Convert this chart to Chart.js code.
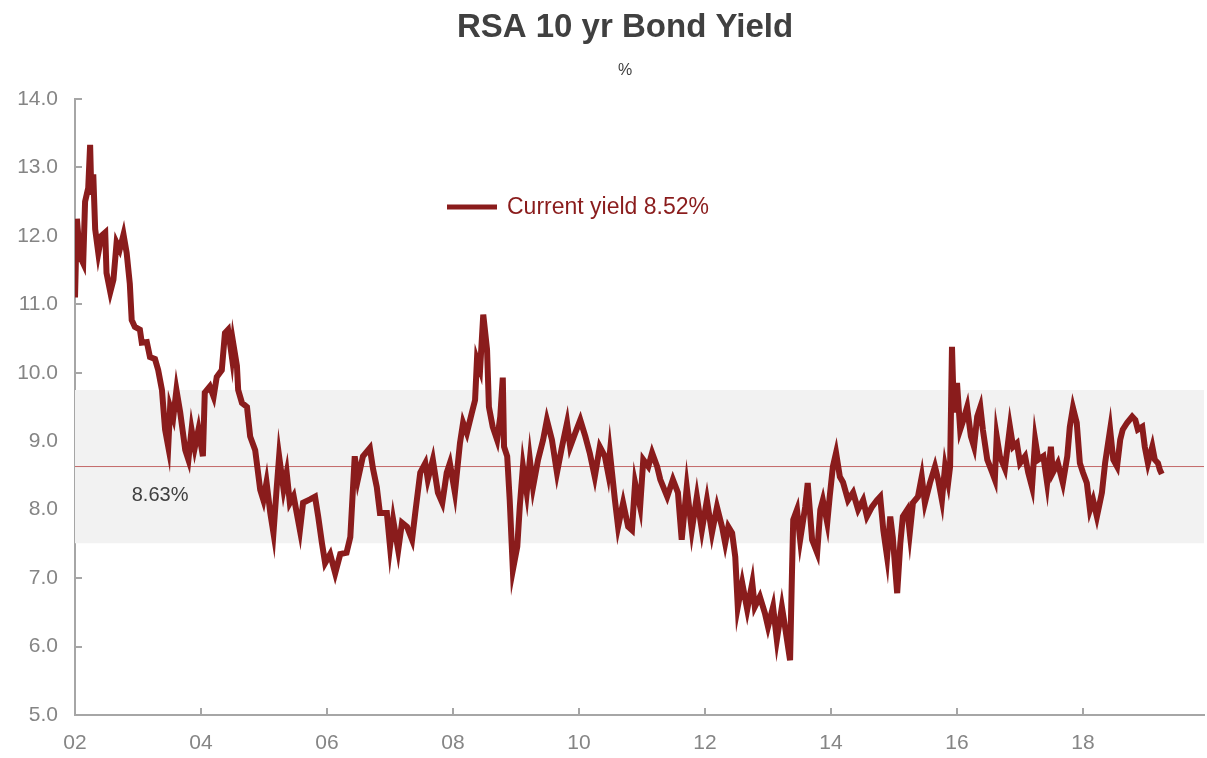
<!DOCTYPE html>
<html>
<head>
<meta charset="utf-8">
<title>RSA 10 yr Bond Yield</title>
<script src="https://cdn.jsdelivr.net/npm/chart.js@4"></script>
<style>
  html, body { margin: 0; padding: 0; background: #fff; }
  #wrap { width: 1207px; height: 758px; }
</style>
</head>
<body>
<div id="wrap"><canvas id="yieldChart" width="1207" height="758"></canvas></div>
<script>
/* ================= DATA ================= */
// dates as decimal years, yields in %
const dates = [
  2002.00, 2002.03, 2002.08, 2002.13, 2002.16, 2002.21, 2002.24, 2002.26, 2002.29, 2002.32,
  2002.37, 2002.42, 2002.48, 2002.50, 2002.56, 2002.61, 2002.66, 2002.71, 2002.77, 2002.82,
  2002.87, 2002.90, 2002.95,
  2003.03, 2003.06, 2003.14, 2003.19, 2003.27, 2003.32, 2003.38, 2003.43, 2003.48, 2003.51,
  2003.56, 2003.61, 2003.67, 2003.75, 2003.80, 2003.85, 2003.90, 2003.96,
  2004.03, 2004.06, 2004.14, 2004.20, 2004.25, 2004.33, 2004.38, 2004.43, 2004.49, 2004.51,
  2004.57, 2004.59, 2004.65, 2004.73, 2004.78, 2004.86, 2004.94, 2004.99,
  2005.04, 2005.10, 2005.15, 2005.20, 2005.24, 2005.31, 2005.36, 2005.41, 2005.47, 2005.52,
  2005.57, 2005.62, 2005.73, 2005.81, 2005.86, 2005.92, 2005.97,
  2006.05, 2006.13, 2006.21, 2006.31, 2006.37, 2006.44, 2006.49, 2006.57, 2006.68, 2006.73,
  2006.79, 2006.84, 2006.95,
  2007.00, 2007.05, 2007.13, 2007.19, 2007.27, 2007.35, 2007.40, 2007.48, 2007.56, 2007.60,
  2007.68, 2007.76, 2007.83, 2007.90, 2007.95,
  2008.03, 2008.11, 2008.16, 2008.22, 2008.30, 2008.35, 2008.38, 2008.43, 2008.48, 2008.54,
  2008.57, 2008.63, 2008.70, 2008.75, 2008.79, 2008.81, 2008.86, 2008.90, 2008.95,
  2009.02, 2009.06, 2009.11, 2009.17, 2009.22, 2009.27, 2009.35, 2009.43, 2009.49, 2009.57,
  2009.65, 2009.73, 2009.81, 2009.86, 2009.94,
  2010.02, 2010.10, 2010.17, 2010.25, 2010.33, 2010.41, 2010.46, 2010.49, 2010.57, 2010.62,
  2010.70, 2010.78, 2010.84, 2010.89, 2010.97,
  2011.02, 2011.10, 2011.16, 2011.24, 2011.29, 2011.40, 2011.49, 2011.57, 2011.63, 2011.71,
  2011.79, 2011.87, 2011.95,
  2012.03, 2012.11, 2012.19, 2012.27, 2012.32, 2012.37, 2012.43, 2012.48, 2012.52, 2012.59,
  2012.67, 2012.75, 2012.79, 2012.87, 2012.95,
  2013.00, 2013.08, 2013.14, 2013.22, 2013.27, 2013.35, 2013.38, 2013.40, 2013.46, 2013.51,
  2013.59, 2013.63, 2013.70, 2013.78, 2013.83, 2013.87, 2013.94, 2013.98,
  2014.03, 2014.08, 2014.14, 2014.19, 2014.27, 2014.35, 2014.43, 2014.51, 2014.57, 2014.65,
  2014.73, 2014.78, 2014.83, 2014.89, 2014.94, 2014.98,
  2015.05, 2015.10, 2015.14, 2015.21, 2015.25, 2015.30, 2015.38, 2015.44, 2015.49, 2015.57,
  2015.65, 2015.70, 2015.76, 2015.81, 2015.86, 2015.89, 2015.92, 2015.95,
  2016.00, 2016.05, 2016.10, 2016.16, 2016.22, 2016.27, 2016.32, 2016.37, 2016.41, 2016.48,
  2016.56, 2016.60, 2016.63, 2016.68, 2016.76, 2016.84, 2016.89, 2016.95,
  2017.00, 2017.08, 2017.13, 2017.19, 2017.24, 2017.29, 2017.37, 2017.43, 2017.49, 2017.52,
  2017.60, 2017.68, 2017.75, 2017.79, 2017.84, 2017.90, 2017.95,
  2018.00, 2018.06, 2018.11, 2018.16, 2018.22, 2018.30, 2018.35, 2018.43, 2018.48, 2018.54,
  2018.59, 2018.63, 2018.70, 2018.78, 2018.83, 2018.87, 2018.94, 2018.98,
  2019.03, 2019.10, 2019.14, 2019.19, 2019.22, 2019.25
];

const yields = [
  11.10, 12.25, 11.70, 11.60, 12.50, 12.70, 13.33, 12.60, 12.90, 12.10,
  11.75, 12.00, 12.05, 11.46, 11.18, 11.36, 11.90, 11.80, 12.02, 11.75,
  11.30, 10.77, 10.67,
  10.63, 10.44, 10.45, 10.23, 10.20, 10.04, 9.75, 9.17, 8.92, 9.50,
  9.35, 9.75, 9.42, 8.87, 8.73, 9.17, 8.90, 9.17,
  8.78, 9.71, 9.80, 9.65, 9.94, 10.04, 10.58, 10.63, 10.23, 10.44,
  10.10, 9.75, 9.56, 9.50, 9.07, 8.87, 8.29, 8.14,
  8.40, 7.95, 7.66, 8.30, 8.78, 8.30, 8.54, 8.10, 8.20, 7.95,
  7.70, 8.10, 8.15, 8.19, 7.90, 7.51, 7.22,
  7.35, 7.07, 7.35, 7.37, 7.60, 8.78, 8.44, 8.78, 8.90, 8.60,
  8.33, 7.95, 7.95,
  7.46, 7.85, 7.41, 7.81, 7.75, 7.56, 7.95, 8.54, 8.68, 8.44,
  8.73, 8.25, 8.10, 8.54, 8.68,
  8.25, 8.97, 9.27, 9.12, 9.42, 9.60, 10.19, 10.05, 10.85, 10.34,
  9.50, 9.21, 9.02, 9.36, 9.93, 8.92, 8.78, 8.14, 7.12,
  7.46, 8.05, 8.63, 8.25, 8.73, 8.33, 8.73, 9.02, 9.31, 9.02,
  8.54, 8.92, 9.27, 8.92, 9.12,
  9.31, 9.07, 8.83, 8.48, 8.92, 8.78, 8.54, 8.83, 8.14, 7.75,
  8.10, 7.75, 7.70, 8.39, 8.04,
  8.73, 8.63, 8.83, 8.63, 8.44, 8.19, 8.44, 8.25, 7.56, 8.33,
  7.70, 8.19, 7.70,
  8.14, 7.66, 8.04, 7.75, 7.51, 7.75, 7.66, 7.31, 6.58, 6.93,
  6.54, 6.93, 6.58, 6.73, 6.49,
  6.29, 6.58, 6.10, 6.58, 6.29, 5.80, 7.07, 7.85, 8.00, 7.56,
  8.04, 8.39, 7.56, 7.37, 8.00, 8.14, 7.81, 8.20,
  8.63, 8.83, 8.48, 8.40, 8.14, 8.25, 8.00, 8.14, 7.90, 8.04,
  8.14, 8.19, 7.70, 7.31, 7.90, 7.60,
  6.78, 7.51, 7.90, 8.00, 7.66, 8.10, 8.19, 8.48, 8.10, 8.39,
  8.63, 8.44, 8.14, 8.63, 8.40, 8.63, 10.38, 9.42,
  9.85, 9.17, 9.31, 9.50, 9.07, 8.92, 9.36, 9.50, 9.17, 8.73,
  8.54, 8.44, 9.07, 8.78, 8.60, 9.21, 8.92, 8.97,
  8.68, 8.78, 8.54, 8.33, 9.02, 8.73, 8.78, 8.39, 8.92, 8.54,
  8.68, 8.39, 8.78, 9.21, 9.49, 9.27, 8.68,
  8.54, 8.39, 8.00, 8.14, 7.90, 8.25, 8.68, 9.17, 8.73, 8.63,
  9.02, 9.17, 9.27, 9.36, 9.31, 9.17, 9.21, 8.92,
  8.68, 8.92, 8.73, 8.68, 8.58, 8.52
];

const xTickLabels = ["02", "04", "06", "08", "10", "12", "14", "16", "18"];
const X_START = 2002;
const X_END = 2019.92;

const AVG_YIELD = 8.63;      // long run average
const BAND_UPPER = 9.75;     // average + 1 std dev
const BAND_LOWER = 7.51;     // average - 1 std dev
const CURRENT_YIELD = 8.52;

const TITLE = "RSA 10 yr Bond Yield";
const SUBTITLE = "%";

const FONT = '"Liberation Sans", Arial, Helvetica, sans-serif';
const LINE_COLOR = "#8a1c1c";
const AXIS_COLOR = "#a6a6a6";

/* ================= CUSTOM LABELS ================= */
const chartLabels = {
    id: "chartLabels",
    afterDatasetsDraw(chart) {
        const { ctx, chartArea, scales } = chart;
        ctx.save();

        /* title + unit, centred over the plot */
        const cx = chartArea.left + 550;
        ctx.textAlign = "center";
        ctx.textBaseline = "middle";
        ctx.fillStyle = "#404040";
        ctx.font = "bold 33px " + FONT;
        ctx.fillText(TITLE, cx, 28);
        ctx.font = "16px " + FONT;
        ctx.fillText(SUBTITLE, cx, 71);

        /* average label inside the band */
        ctx.font = "20px " + FONT;
        ctx.textAlign = "left";
        ctx.fillText(AVG_YIELD.toFixed(2) + "%",
            scales.x.getPixelForValue(2002.9), scales.y.getPixelForValue(8.2));

        /* legend for the yield line */
        const lx = chartArea.left + 372;
        const ly = chartArea.top + 108;
        ctx.strokeStyle = LINE_COLOR;
        ctx.lineWidth = 5;
        ctx.beginPath();
        ctx.moveTo(lx, ly);
        ctx.lineTo(lx + 50, ly);
        ctx.stroke();

        ctx.font = "23px " + FONT;
        ctx.fillStyle = LINE_COLOR;
        ctx.fillText("Current yield " + CURRENT_YIELD.toFixed(2) + "%", lx + 60, ly + 1);

        ctx.restore();
    }
};

/* ================= CHART ================= */
const yieldPoints = dates.map((d, i) => ({ x: d, y: yields[i] }));
const flat = v => [{ x: X_START, y: v }, { x: X_END, y: v }];

new Chart(document.getElementById("yieldChart"), {
    type: "line",
    data: {
        datasets: [
            {
                label: "Current yield " + CURRENT_YIELD.toFixed(2) + "%",
                data: yieldPoints,
                borderColor: LINE_COLOR,
                borderWidth: 6,
                pointRadius: 0,
                tension: 0,
                fill: false,
                order: 0
            },
            {
                label: "Average",
                data: flat(AVG_YIELD),
                borderColor: "#c46a6a",
                borderWidth: 1,
                pointRadius: 0,
                fill: false,
                order: 1
            },
            {
                label: "Band upper",
                data: flat(BAND_UPPER),
                borderWidth: 0,
                pointRadius: 0,
                backgroundColor: "#f2f2f2",
                fill: "+1",
                order: 2
            },
            {
                label: "Band lower",
                data: flat(BAND_LOWER),
                borderWidth: 0,
                pointRadius: 0,
                fill: false,
                order: 3
            }
        ]
    },
    options: {
        responsive: false,
        animation: false,
        layout: { padding: { left: 0, right: 3, top: 99, bottom: 0 } },
        scales: {
            x: {
                type: "linear",
                min: X_START,
                max: X_END,
                afterFit: s => { s.height = 43; },
                border: { color: AXIS_COLOR, width: 2 },
                grid: {
                    drawOnChartArea: false,
                    drawTicks: true,
                    tickLength: -7,
                    color: AXIS_COLOR,
                    lineWidth: 2
                },
                ticks: {
                    stepSize: 2,
                    includeBounds: false,
                    autoSkip: false,
                    maxRotation: 0,
                    padding: 23,
                    color: "#858585",
                    font: { family: FONT, size: 21 },
                    callback: v => xTickLabels[Math.round((v - X_START) / 2)]
                }
            },
            y: {
                min: 5,
                max: 14,
                afterFit: s => { s.width = 75; },
                border: { color: AXIS_COLOR, width: 2 },
                grid: {
                    drawOnChartArea: false,
                    drawTicks: true,
                    tickLength: -7,
                    color: AXIS_COLOR,
                    lineWidth: 2
                },
                ticks: {
                    stepSize: 1,
                    padding: 24,
                    color: "#858585",
                    font: { family: FONT, size: 21 },
                    callback: v => v.toFixed(1)
                }
            }
        },
        plugins: {
            legend: { display: false },
            tooltip: { enabled: false },
            title: { display: false },
            subtitle: { display: false }
        }
    },
    plugins: [chartLabels]
});
</script>
</body>
</html>
